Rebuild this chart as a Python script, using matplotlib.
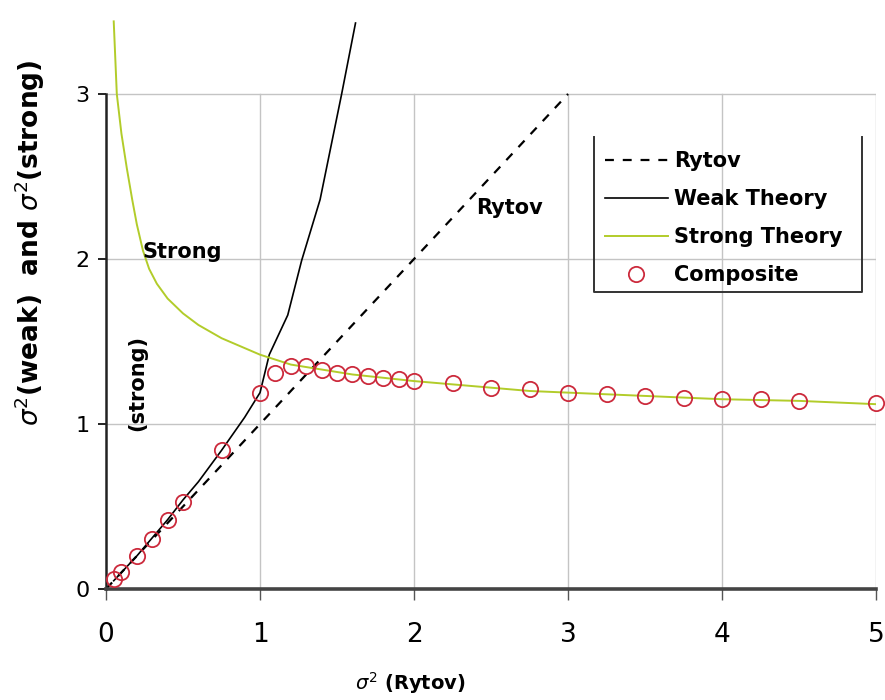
import matplotlib
matplotlib.use('Agg')
import matplotlib.pyplot as plt
from matplotlib.lines import Line2D

plt.rcParams['font.family'] = ['DejaVu Sans']
plt.rcParams['mathtext.fontset'] = 'dejavusans'

# Rytov (straight reference line)
rytov_x = [0.0, 3.0]
rytov_y = [0.0, 3.0]

# weak fluctuation theory
weak_x = [0.05, 0.1, 0.2, 0.3, 0.4, 0.5, 0.6, 0.75, 0.9, 1.0, 1.06, 1.18, 1.27, 1.39, 1.53, 1.62]
weak_y = [0.05, 0.1, 0.2, 0.31, 0.42, 0.54, 0.65, 0.84, 1.04, 1.19, 1.42, 1.66, 1.99, 2.36, 3.0, 3.43]

# strong fluctuation theory
strong_x = [0.05, 0.07, 0.1, 0.135, 0.17, 0.2, 0.24, 0.28, 0.33, 0.4, 0.5, 0.6, 0.75, 0.9, 1.0,
            1.1, 1.2, 1.4, 1.6, 1.8, 2.0, 2.25, 2.5, 2.75, 3.0, 3.5, 4.0, 4.5, 5.0]
strong_y = [3.44, 3.0, 2.76, 2.55, 2.36, 2.21, 2.05, 1.94, 1.85, 1.76, 1.67, 1.60, 1.52, 1.46, 1.42,
            1.39, 1.36, 1.33, 1.30, 1.28, 1.26, 1.24, 1.22, 1.20, 1.19, 1.17, 1.15, 1.14, 1.12]

# composite points
comp_x = [0.05, 0.1, 0.2, 0.3, 0.4, 0.5, 0.75, 1.0, 1.1, 1.2, 1.3, 1.4, 1.5, 1.6, 1.7, 1.8,
          1.9, 2.0, 2.25, 2.5, 2.75, 3.0, 3.25, 3.5, 3.75, 4.0, 4.25, 4.5, 5.0]
comp_y = [0.06, 0.1, 0.2, 0.3, 0.42, 0.53, 0.84, 1.19, 1.31, 1.35, 1.35, 1.33, 1.31, 1.30, 1.29,
          1.28, 1.27, 1.26, 1.25, 1.22, 1.21, 1.19, 1.18, 1.17, 1.16, 1.15, 1.15, 1.14, 1.13]

xticks = [0, 1, 2, 3, 4, 5]
yticks = [0, 1, 2, 3]

green = '#b2cc2a'
red = '#cc2a3c'

fig = plt.figure(figsize=(8.85, 7.0), dpi=100)
ax = fig.add_axes([0.1198, 0.1586, 0.8701, 0.8368])
ax.set_xlim(0, 5)
ax.set_ylim(0, 3.55)

# gridlines only inside the 0..3 plot area
for xv in xticks[1:]:
    ax.plot([xv, xv], [0, 3], color='#c4c4c4', lw=1.0, zorder=0)
for yv in yticks[1:]:
    ax.plot([0, 5], [yv, yv], color='#c4c4c4', lw=1.0, zorder=0)

ax.plot(rytov_x, rytov_y, color='black', lw=1.6, dashes=(4, 4), label='Rytov', zorder=2)
ax.plot(weak_x, weak_y, color='black', lw=1.2, label='Weak Theory', zorder=2)
ax.plot(strong_x, strong_y, color=green, lw=1.4, label='Strong Theory', zorder=2)
ax.plot(comp_x, comp_y, ls='none', marker='o', ms=11, mfc='none', mec=red, mew=1.3,
        label='Composite', zorder=3, clip_on=False)

for s in ['top', 'right']:
    ax.spines[s].set_visible(False)
ax.spines['left'].set_bounds(0, 3)
ax.spines['left'].set_linewidth(1.8)
ax.spines['left'].set_color('#222222')
ax.spines['bottom'].set_linewidth(2.6)
ax.spines['bottom'].set_color('#444444')

ax.set_xticks(xticks)
ax.set_yticks(yticks)
ax.tick_params(axis='x', direction='out', length=8, width=1.0, color='#555555',
               labelsize=19, pad=16)
ax.tick_params(axis='y', direction='out', length=6, width=1.4, color='#222222',
               labelsize=16, pad=6)

ax.text(0.234, 2.04, 'Strong', fontsize=15, fontweight='bold', va='center', ha='left')
ax.text(2.40, 2.31, 'Rytov', fontsize=15, fontweight='bold', va='center', ha='left')
ax.text(0.2, 1.25, '(strong)', fontsize=15, fontweight='bold', va='center', ha='center',
        rotation=90)

fig.text(410 / 885, 1 - 683 / 700, r'$\sigma^2$ (Rytov)', fontsize=14, fontweight='bold',
         ha='center', va='center')
fig.text(30 / 885, 1 - 243 / 700, r'$\sigma^2$(weak)  and $\sigma^2$(strong)', fontsize=19,
         fontweight='bold', ha='center', va='center', rotation=90)

leg = ax.legend(loc='upper left', bbox_to_anchor=(0.648, 0.748), frameon=False,
                prop={'weight': 'bold', 'size': 15}, handlelength=3.0,
                handletextpad=0.3, labelspacing=0.87, borderpad=0, borderaxespad=0,
                numpoints=1)

# legend box, open at the top
box_x = [0.634, 0.634, 0.982, 0.982]
box_y = [0.7717, 0.507, 0.507, 0.7717]
ax.add_line(Line2D(box_x, box_y, transform=ax.transAxes, color='#333333', lw=1.4,
                   clip_on=False, zorder=4))

fig.savefig('out.png', dpi=100)
